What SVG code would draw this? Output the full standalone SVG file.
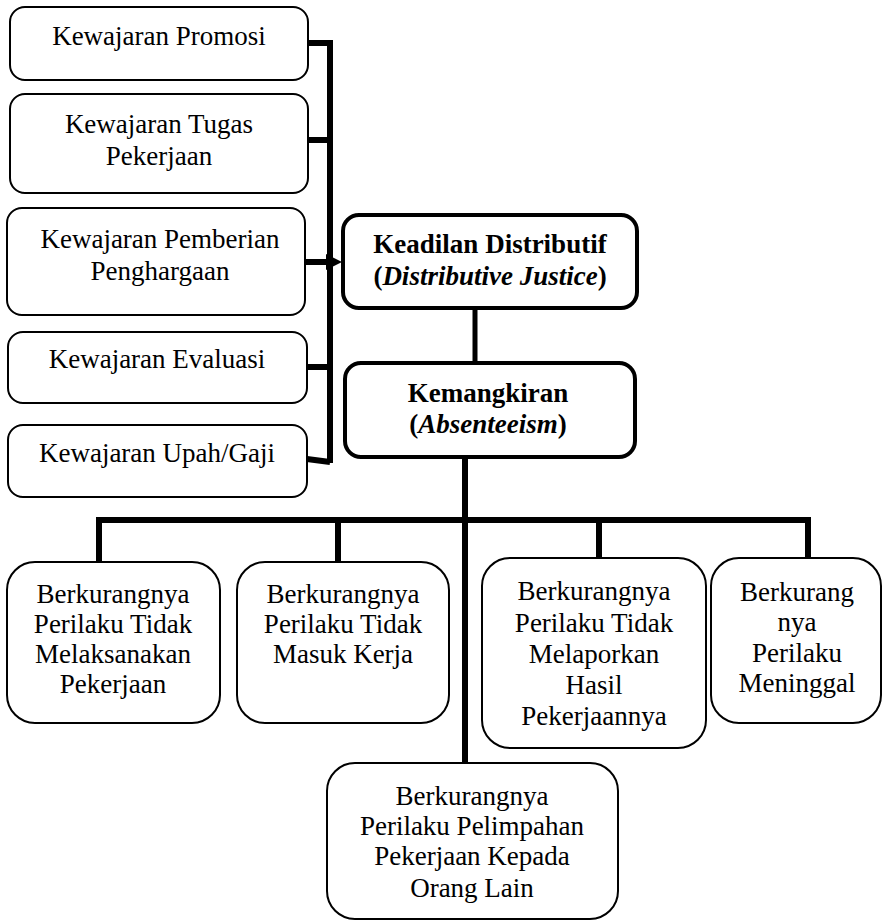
<svg xmlns="http://www.w3.org/2000/svg" width="882" height="921" viewBox="0 0 882 921">
<style>
text{font-family:"Liberation Serif","Times New Roman",serif;font-size:27px;fill:#000;text-anchor:middle}
.b{font-weight:bold}
.it{font-style:italic}
.lbox{fill:#fff;stroke:#000;stroke-width:2}
.cbox{fill:#fff;stroke:#000;stroke-width:4}
.bbox{fill:#fff;stroke:#000;stroke-width:2}
.con{fill:none;stroke:#000;stroke-width:6}
</style>
<defs>
<marker id="arr" markerWidth="6" markerHeight="6" refX="5" refY="3" orient="auto" markerUnits="userSpaceOnUse" viewBox="0 0 6 6">
<path d="M0,0 L6,3 L0,6 z" fill="#000"/>
</marker>
</defs>
<rect width="882" height="921" fill="#fff"/>
<g id="connectors">
<polyline class="con" points="308,43 330,43 330,463"/>
<line class="con" x1="308" y1="140" x2="330" y2="140"/>
<line class="con" x1="307" y1="367" x2="330" y2="367"/>
<polyline class="con" points="307,459 330,462"/>
<line class="con" x1="305" y1="262" x2="328" y2="262"/>
<path d="M326,254 L342,262 L326,270 z" fill="#000"/>
<line class="con" x1="475" y1="308" x2="475" y2="363" style="stroke-width:5"/>
<line class="con" x1="465" y1="457" x2="465" y2="764"/>
<line class="con" x1="96" y1="520" x2="811" y2="520"/>
<line class="con" x1="99" y1="520" x2="99" y2="562"/>
<line class="con" x1="338" y1="520" x2="338" y2="562"/>
<line class="con" x1="599" y1="520" x2="599" y2="558"/>
<line class="con" x1="808" y1="520" x2="808" y2="558"/>
</g>
<g id="n-promosi">
<rect class="lbox" x="10" y="7" width="298" height="73" rx="15"/>
<text x="159" y="45">Kewajaran Promosi</text>
</g>
<g id="n-tugas">
<rect class="lbox" x="10" y="94" width="298" height="99" rx="15"/>
<text x="159" y="133">Kewajaran Tugas</text>
<text x="159" y="165">Pekerjaan</text>
</g>
<g id="n-pemberian">
<rect class="lbox" x="7" y="208" width="298" height="107" rx="15"/>
<text x="160" y="248">Kewajaran Pemberian</text>
<text x="160" y="280">Penghargaan</text>
</g>
<g id="n-evaluasi">
<rect class="lbox" x="8" y="332" width="299" height="71" rx="15"/>
<text x="157" y="368">Kewajaran Evaluasi</text>
</g>
<g id="n-upah">
<rect class="lbox" x="8" y="425" width="299" height="72" rx="15"/>
<text x="157" y="462">Kewajaran Upah/Gaji</text>
</g>
<g id="n-keadilan">
<rect class="cbox" x="343" y="215" width="294" height="93" rx="16"/>
<text class="b" x="490" y="253">Keadilan Distributif</text>
<text class="b" x="490" y="285">(<tspan class="it">Distributive Justice</tspan>)</text>
</g>
<g id="n-kemangkiran">
<rect class="cbox" x="345" y="363" width="290" height="94" rx="16"/>
<text class="b" x="488" y="402">Kemangkiran</text>
<text class="b" x="488" y="433">(<tspan class="it">Absenteeism</tspan>)</text>
</g>
<g id="n-melaksanakan">
<rect class="bbox" x="7" y="562" width="213" height="161" rx="28"/>
<text x="113" y="603">Berkurangnya</text>
<text x="113" y="633">Perilaku Tidak</text>
<text x="113" y="663">Melaksanakan</text>
<text x="113" y="693">Pekerjaan</text>
</g>
<g id="n-masuk">
<rect class="bbox" x="237" y="562" width="212" height="161" rx="28"/>
<text x="343" y="603">Berkurangnya</text>
<text x="343" y="633">Perilaku Tidak</text>
<text x="343" y="663">Masuk Kerja</text>
</g>
<g id="n-melaporkan">
<rect class="bbox" x="482" y="558" width="224" height="190" rx="28"/>
<text x="594" y="600">Berkurangnya</text>
<text x="594" y="632">Perilaku Tidak</text>
<text x="594" y="663">Melaporkan</text>
<text x="594" y="694">Hasil</text>
<text x="594" y="725">Pekerjaannya</text>
</g>
<g id="n-meninggal">
<rect class="bbox" x="711" y="558" width="170" height="165" rx="28"/>
<text x="797" y="601">Berkurang</text>
<text x="797" y="631">nya</text>
<text x="797" y="662">Perilaku</text>
<text x="797" y="692">Meninggal</text>
</g>
<g id="n-pelimpahan">
<rect class="bbox" x="327" y="763" width="291" height="156" rx="28"/>
<text x="472" y="805">Berkurangnya</text>
<text x="472" y="835">Perilaku Pelimpahan</text>
<text x="472" y="865">Pekerjaan Kepada</text>
<text x="472" y="897">Orang Lain</text>
</g>
</svg>
